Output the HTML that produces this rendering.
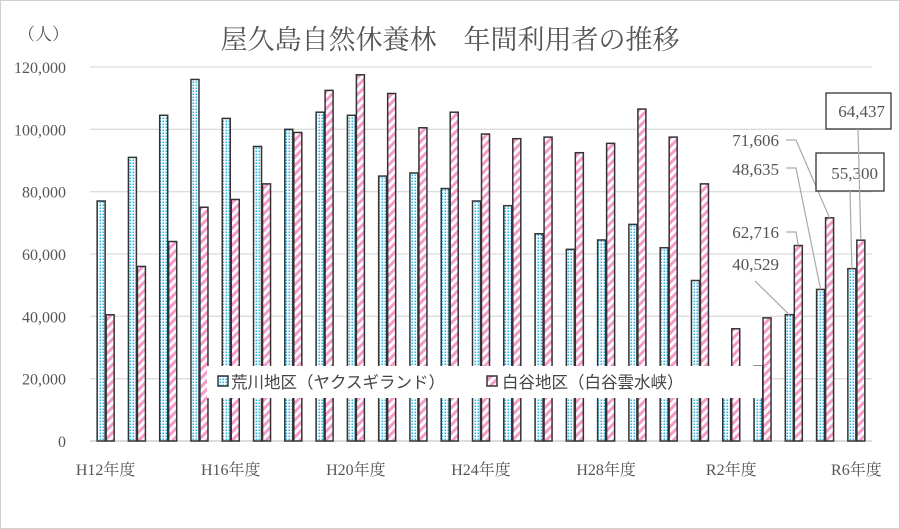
<!DOCTYPE html>
<html><head><meta charset="utf-8"><style>
html,body{margin:0;padding:0;background:#fff}
svg{display:block}
.serif{font-family:"Liberation Serif","Noto Serif CJK JP","Noto Serif CJK SC",serif}
.sans{font-family:"Liberation Sans","Noto Sans CJK JP",sans-serif}
</style></head><body>
<svg id="chart" width="900" height="529" viewBox="0 0 900 529">
<defs>
<pattern id="dots" width="3" height="3" patternUnits="userSpaceOnUse"><rect width="3" height="3" fill="#fff"/><rect x="0.5" y="0.5" width="1.6" height="1.6" fill="#27b4e8"/></pattern>
<pattern id="stripes" width="6" height="6" patternUnits="userSpaceOnUse" patternTransform="rotate(-45)"><rect width="6" height="6" fill="#fff"/><rect width="6" height="3" fill="#f79acb"/></pattern>
</defs>
<rect x="0.5" y="0.5" width="899" height="528" fill="#fff" stroke="#d0d0d0"/>
<text x="450" y="49" text-anchor="middle" class="serif" font-size="27" fill="#555">屋久島自然休養林　年間利用者の推移</text>
<text x="18" y="40" class="serif" font-size="17" fill="#555">（人）</text>
<g id="grid"></g><g id="bars"></g><g id="xlabels"></g>
<rect x="207" y="366" width="555" height="32" fill="#fff"/>
<rect x="218" y="376" width="10" height="10" fill="url(#dots)" stroke="#333" stroke-width="1.5"/>
<text x="231" y="388" class="sans" font-size="16.5" fill="#444">荒川地区（ヤクスギランド）</text>
<rect x="487" y="376" width="10" height="10" fill="url(#stripes)" stroke="#333" stroke-width="1.5"/>
<text x="502" y="388" class="sans" font-size="16.5" fill="#444">白谷地区（白谷雲水峡）</text>
<g id="annot" class="serif" font-size="17" fill="#555"></g>
</svg>
<script>
const categories=["H12","H13","H14","H15","H16","H17","H18","H19","H20","H21","H22","H23","H24","H25","H26","H27","H28","H29","H30","R1","R2","R3","R4","R5","R6"];
const arakawa=[77000,91000,104500,116000,103500,94500,100000,105500,104500,85000,86000,81000,77000,75500,66500,61500,64500,69500,62000,51500,23500,24000,40529,48635,55300];
const shiratani=[40500,56000,64000,75000,77500,82500,99000,112500,117500,111500,100500,105500,98500,97000,97500,92500,95500,106500,97500,82500,36000,39500,62716,71606,64437];
const yTicks=[0,20000,40000,60000,80000,100000,120000];
const xLabelIdx=[0,4,8,12,16,20,24];
const NS="http://www.w3.org/2000/svg";
const X0=90,X1=872,Y0=441,Y1=67,YMAX=120000;
const bw=(X1-X0)/categories.length;
const y=v=>Y0-(v/YMAX)*(Y0-Y1);
const xc=i=>X0+(i+0.5)*bw;
function mk(tag,attrs,parent){const e=document.createElementNS(NS,tag);for(const k in attrs)e.setAttribute(k,attrs[k]);parent.appendChild(e);return e;}
const grid=document.getElementById('grid');
yTicks.forEach(t=>{
  const l=mk('line',{x1:X0,x2:X1,y1:y(t),y2:y(t),stroke:t===0?'#c8c8c8':'#dcdcdc','stroke-width':1.3},grid);
  
  
  const tx=mk('text',{x:66,y:y(t)+6,'text-anchor':'end','class':'serif','font-size':16,fill:'#555'},grid);
  tx.textContent=t.toLocaleString('en-US');
  
  
});
const bars=document.getElementById('bars');
categories.forEach((c,i)=>{
  const cx=xc(i);
  const a=mk('rect',{x:cx-8.5,y:y(arakawa[i]),width:8,height:Y0-y(arakawa[i]),fill:'url(#dots)',stroke:'#333','stroke-width':1.5},bars);
  
  
  const s=mk('rect',{x:cx+0.5,y:y(shiratani[i]),width:8,height:Y0-y(shiratani[i]),fill:'url(#stripes)',stroke:'#333','stroke-width':1.5},bars);
  
  
});
const xl=document.getElementById('xlabels');
xLabelIdx.forEach(i=>{
  const t=mk('text',{x:xc(i),y:475,'text-anchor':'middle','class':'serif','font-size':16,fill:'#555'},xl);
  t.textContent=categories[i]+'年度';
  
  
});
const an=document.getElementById('annot');
function label(txt,tx,ty,pts,box,name){
  if(box){const r=mk('rect',{x:box[0],y:box[1],width:box[2],height:box[3],fill:'#fff',stroke:'#333','stroke-width':1.3},an);
    
    }
  const p=mk('polyline',{points:pts.map(q=>q.join(',')).join(' '),fill:'none',stroke:'#aaa','stroke-width':1.2},an);
  
  
  const t=mk('text',{x:tx,y:ty,'text-anchor':'end'},an);
  t.textContent=txt;
  
  
}
const n=categories.length;
label('71,606',779,146,[[786,140],[796,140],[xc(n-2)+4.5,y(shiratani[n-2])]],null,'label-r5-shiratani');
label('48,635',779,175,[[786,168],[796,168],[xc(n-2)-4.5,y(arakawa[n-2])]],null,'label-r5-arakawa');
label('62,716',779,238,[[786,232],[796,232],[xc(n-3)+4.5,y(shiratani[n-3])]],null,'label-r4-shiratani');
label('40,529',779,270,[[755,281],[xc(n-3)-4.5,y(arakawa[n-3])]],null,'label-r4-arakawa');
label('55,300',878,179,[[850,191],[xc(n-1)-4.5,y(arakawa[n-1])]],[816,153,68,38],'label-r6-arakawa');
label('64,437',885,117,[[858,129],[xc(n-1)+4.5,y(shiratani[n-1])]],[826,93,65,36],'label-r6-shiratani');
</script>
</body></html>
